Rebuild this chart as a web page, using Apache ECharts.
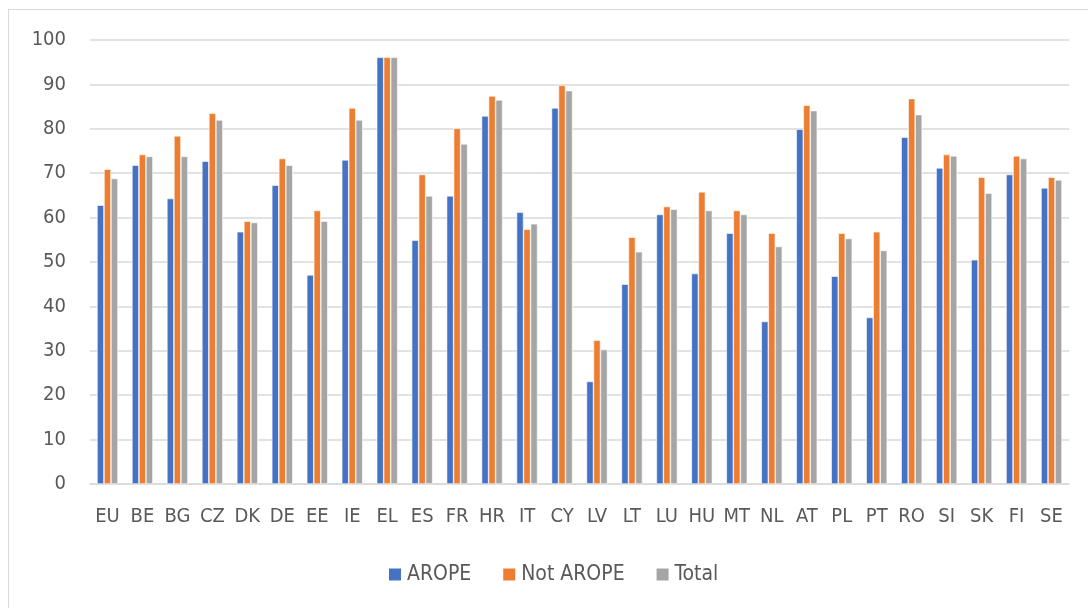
<!DOCTYPE html>
<html>
<head>
<meta charset="utf-8">
<script src="https://cdn.jsdelivr.net/npm/echarts@6/dist/echarts.min.js"></script>
<style>
html,body{margin:0;padding:0;background:#fff;}
#frame{position:absolute;left:8px;top:9px;width:1100px;height:620px;border:1.5px solid #d9d9d9;box-sizing:border-box;}
#chart{position:absolute;left:0;top:0;width:1088px;height:608px;}
</style>
</head>
<body>
<div id="frame"></div>
<div id="chart"></div>
<script>
const categories = ["EU","BE","BG","CZ","DK","DE","EE","IE","EL","ES","FR","HR","IT","CY","LV","LT","LU","HU","MT","NL","AT","PL","PT","RO","SI","SK","FI","SE"];
const arope    = [62.8,71.8,64.3,72.7,56.8,67.3,47.1,73.0,96.1,54.9,64.9,82.9,61.2,84.7,23.1,45.0,60.7,47.4,56.5,36.6,79.9,46.8,37.5,78.1,71.2,50.5,69.7,66.7];
const notArope = [70.9,74.2,78.4,83.5,59.2,73.3,61.6,84.7,96.1,69.7,80.1,87.4,57.4,89.8,32.4,55.6,62.5,65.8,61.6,56.5,85.3,56.5,56.8,86.8,74.2,69.1,73.9,69.1];
const total    = [68.8,73.8,73.8,82.0,58.9,71.8,59.2,82.0,96.1,64.9,76.6,86.5,58.6,88.6,30.3,52.3,61.9,61.6,60.7,53.5,84.1,55.3,52.6,83.2,73.9,65.5,73.3,68.5];
const yTicks = [0,10,20,30,40,50,60,70,80,90,100];

const font = '"Liberation Sans Narrow","DejaVu Sans Condensed","Liberation Sans",sans-serif';
const chart = echarts.init(document.getElementById('chart'), null, {renderer:'canvas'});
const barStyle = (c) => ({color:c, borderColor:'#ffffff', borderWidth:0.6});
chart.setOption({
  animation:false,
  backgroundColor:'transparent',
  grid:{left:90, right:19, top:40, bottom:124, containLabel:false},
  legend:{
    bottom:18, left:382,
    itemWidth:14, itemHeight:14, itemGap:30,
    icon:'rect',
    textStyle:{fontFamily:font, fontSize:21, color:'#595959'},
    data:['AROPE','Not AROPE','Total']
  },
  xAxis:{
    type:'category', data:categories,
    axisLine:{show:true, lineStyle:{color:'#d9d9d9', width:1.5}},
    axisTick:{show:false},
    axisLabel:{fontFamily:font, fontSize:20, color:'#595959', margin:23, interval:0}
  },
  yAxis:{
    type:'value', min:yTicks[0], max:yTicks[yTicks.length-1], interval:10,
    axisLine:{show:false}, axisTick:{show:false},
    splitLine:{lineStyle:{color:'#d9d9d9', width:1.5}},
    axisLabel:{fontFamily:font, fontSize:20, color:'#595959', margin:24}
  },
  series:[
    {name:'AROPE', type:'bar', data:arope, barWidth:7, barGap:'0%', itemStyle:barStyle('#4472C4')},
    {name:'Not AROPE', type:'bar', data:notArope, barWidth:7, barGap:'0%', itemStyle:barStyle('#ED7D31')},
    {name:'Total', type:'bar', data:total, barWidth:7, barGap:'0%', itemStyle:barStyle('#A5A5A5')}
  ]
});
</script>
</body>
</html>
